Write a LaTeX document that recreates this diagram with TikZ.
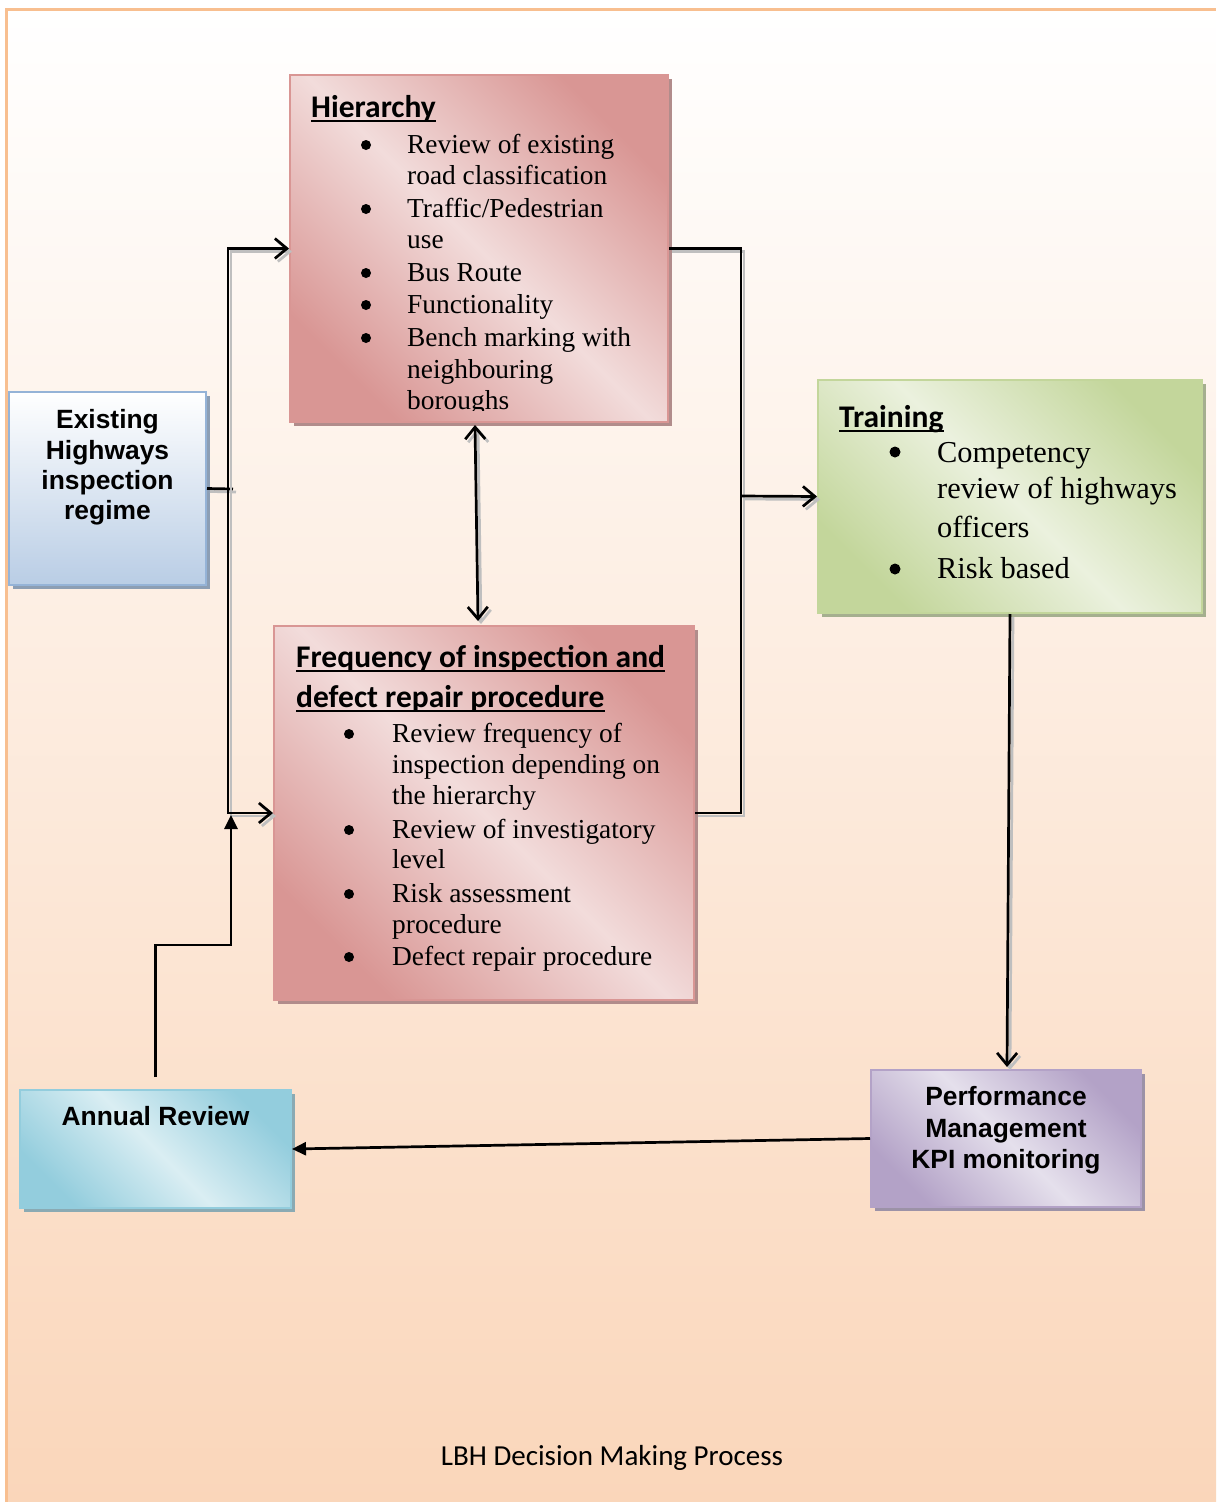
\documentclass[tikz,border=0pt]{standalone}
\usepackage{fontspec}
\setmainfont{Liberation Serif}
\newfontfamily\hdfont{Carlito}
\newfontfamily\arfont{Liberation Sans}
\usetikzlibrary{arrows.meta,shadows,calc}
\definecolor{pkD}{HTML}{D99694}
\definecolor{pkL}{HTML}{F2DCDB}
\definecolor{bgP}{HTML}{FAD6BA}
\definecolor{frameC}{HTML}{F8BF90}
\definecolor{blB}{HTML}{95B3D7}
\definecolor{blD}{HTML}{B9CDE5}
\definecolor{grD}{HTML}{C3D69B}
\definecolor{grL}{HTML}{EBF1DE}
\definecolor{aqD}{HTML}{93CDDD}
\definecolor{aqL}{HTML}{DAEEF3}
\definecolor{lvD}{HTML}{B3A2C7}
\definecolor{lvL}{HTML}{E5E0EC}
\newcommand\shdraw[2]{\draw[cshadow,#1] #2; \draw[conn,#1] #2;}
\tikzset{
  box/.style={draw, line width=2pt, inner sep=0pt, anchor=center},
  diagbox/.style 2 args={box, draw=#1, top color=#1, bottom color=#1, middle color=#2, shading angle=-45,
     drop shadow={shadow xshift=4pt, shadow yshift=-4pt, fill=#1!55!gray, opacity=1}},
  conn/.style={line width=2.7pt, black},
  cshadow/.style={line width=2.7pt, black!25, transform canvas={xshift=3pt,yshift=-3pt}},
  open/.style={-{Straight Barb[length=12pt,width=20pt]}},
  open2/.style={{Straight Barb[length=12pt,width=20pt]}-{Straight Barb[length=12pt,width=20pt]}},
  fillhead/.style={-{Triangle[length=14pt,width=13pt]}},
  body/.style={anchor=base west, inner sep=0pt, font=\fontsize{27.4}{31}\selectfont},
  bodyL/.style={anchor=base west, inner sep=0pt, font=\fontsize{30.4}{36}\selectfont},
  bul/.style={circle, fill=black, inner sep=0pt, minimum size=10pt},
  bulL/.style={circle, fill=black, inner sep=0pt, minimum size=11pt},
  ttl/.style={anchor=base west, inner sep=0pt, font=\hdfont\bfseries\fontsize{31.5}{36}\selectfont},
  lbl/.style={anchor=base, inner sep=0pt, font=\arfont\bfseries\fontsize{26.4}{30}\selectfont},
  uline/.style={line width=2pt, black},
}
\begin{document}
\begin{tikzpicture}[x=1pt,y=-1pt]
\useasboundingbox (0,0) rectangle (1216,1502);
% background
\fill[white] (0,0) rectangle (1216,1502);
\shade[top color=white, bottom color=bgP] (6,9) rectangle (1216,1502);
\draw[frameC, line width=3pt] (6,1502) -- (6,9) -- (1216,9);

% boxes
\node[diagbox={pkD}{pkL}, minimum width=378pt, minimum height=347pt] (hier) at (479,248.5) {};
\node[diagbox={pkD}{pkL}, minimum width=420pt, minimum height=374pt] (freq) at (484,813) {};
\node[box, draw=blB, top color=white, bottom color=blD,
      drop shadow={shadow xshift=4pt, shadow yshift=-4pt, fill=blB!60!gray, opacity=1},
      minimum width=197pt, minimum height=193pt] (ex) at (107.5,488.5) {};
\node[diagbox={grD}{grL}, minimum width=384pt, minimum height=233pt] (tr) at (1010,496.5) {};
\node[diagbox={aqD}{aqL}, minimum width=271pt, minimum height=118pt] (ann) at (155.5,1149) {};
\node[diagbox={lvD}{lvL}, minimum width=270pt, minimum height=137pt] (perf) at (1006,1138.5) {};

% hierarchy text
\begin{scope}
\clip (290,75) rectangle (668,410);
\node[ttl] (ht) at (311,117) {Hierarchy};
\draw[uline] ([shift={(0,4)}]ht.base west) -- ([shift={(0,4)}]ht.base east);
\node[bul] (hb1) at (366,145) {};
\node[bul] (hb2) at (366,209) {};
\node[bul] (hb3) at (366,273) {};
\node[bul] (hb4) at (366,305) {};
\node[bul] (hb5) at (366,338) {};
\node[body] (h1) at (407,153) {Review of existing};
\node[body] (h2) at (407,184) {road classification};
\node[body] (h3) at (407,217) {Traffic/Pedestrian};
\node[body] (h4) at (407,248) {use};
\node[body] (h5) at (407,281) {Bus Route};
\node[body] (h6) at (407,313) {Functionality};
\node[body] (h7) at (407,346) {Bench marking with};
\node[body] (h8) at (407,378) {neighbouring};
\node[body] (h9) at (407,409) {boroughs};
\end{scope}

% frequency text
\node[ttl] (ft1) at (296,667) {Frequency of inspection and};
\draw[uline] ([shift={(0,4)}]ft1.base west) -- ([shift={(0,4)}]ft1.base east);
\node[ttl] (ft2) at (296,707) {defect repair procedure};
\draw[uline] ([shift={(0,4)}]ft2.base west) -- ([shift={(0,4)}]ft2.base east);
\node[bul] (fb1) at (349,734) {};
\node[bul] (fb2) at (349,830) {};
\node[bul] (fb3) at (349,894) {};
\node[bul] (fb4) at (349,957) {};
\node[body] (f1) at (392,742) {Review frequency of};
\node[body] (f2) at (392,773) {inspection depending on};
\node[body] (f3) at (392,804) {the hierarchy};
\node[body] (f4) at (392,838) {Review of investigatory};
\node[body] (f5) at (392,868) {level};
\node[body] (f6) at (392,902) {Risk assessment};
\node[body] (f7) at (392,933) {procedure};
\node[body] (f8) at (392,965) {Defect repair procedure};

% training text
\node[ttl] (tt) at (839,427) {Training};
\draw[uline] ([shift={(0,4)}]tt.base west) -- ([shift={(0,4)}]tt.base east);
\node[bulL] (tb1) at (895,452) {};
\node[bulL] (tb2) at (895,569) {};
\node[bodyL] (t1) at (937,462) {Competency};
\node[bodyL] (t2) at (937,498) {review of highways};
\node[bodyL] (t3) at (937,537) {officers};
\node[bodyL] (t4) at (937,578) {Risk based};

% labels
\node[lbl] (e1) at (107.5,428) {Existing};
\node[lbl] (e2) at (107.5,459) {Highways};
\node[lbl] (e3) at (107.5,489) {inspection};
\node[lbl] (e4) at (107.5,519) {regime};
\node[lbl] (a1) at (155.5,1125) {Annual Review};
\node[lbl] (p1) at (1006,1105) {Performance};
\node[lbl] (p2) at (1006,1137) {Management};
\node[lbl] (p3) at (1006,1168) {KPI monitoring};
\node[anchor=base, inner sep=0pt, font=\hdfont\fontsize{29}{34}\selectfont] (cap) at (612,1465) {LBH Decision Making Process};

% connectors
\coordinate (L) at (228,489);
\coordinate (Lx) at (233,489);
\coordinate (R) at (741,496);
\shdraw{}{(ex.east) -- (Lx)}
\shdraw{open}{(L) |- (hier.west)}
\shdraw{open}{(L) |- (freq.west)}
\shdraw{}{(hier.east) -| (R) |- (freq.east)}
\shdraw{open}{(R) -- (tr.west)}
\shdraw{open2}{([shift={(-4,2)}]hier.south) -- ([shift={(-6,-4)}]freq.north)}
\shdraw{open}{(tr.south) -- ([shift={(1,-2)}]perf.north)}
\draw[conn,fillhead] (perf.west) -- (ann.east);
\coordinate (B1) at (231,945);
\coordinate (B2) at (231,815);
\draw[conn,fillhead] ([shift={(0,-12)}]ann.north) |- (B1) -- (B2);
\end{tikzpicture}
\end{document}
